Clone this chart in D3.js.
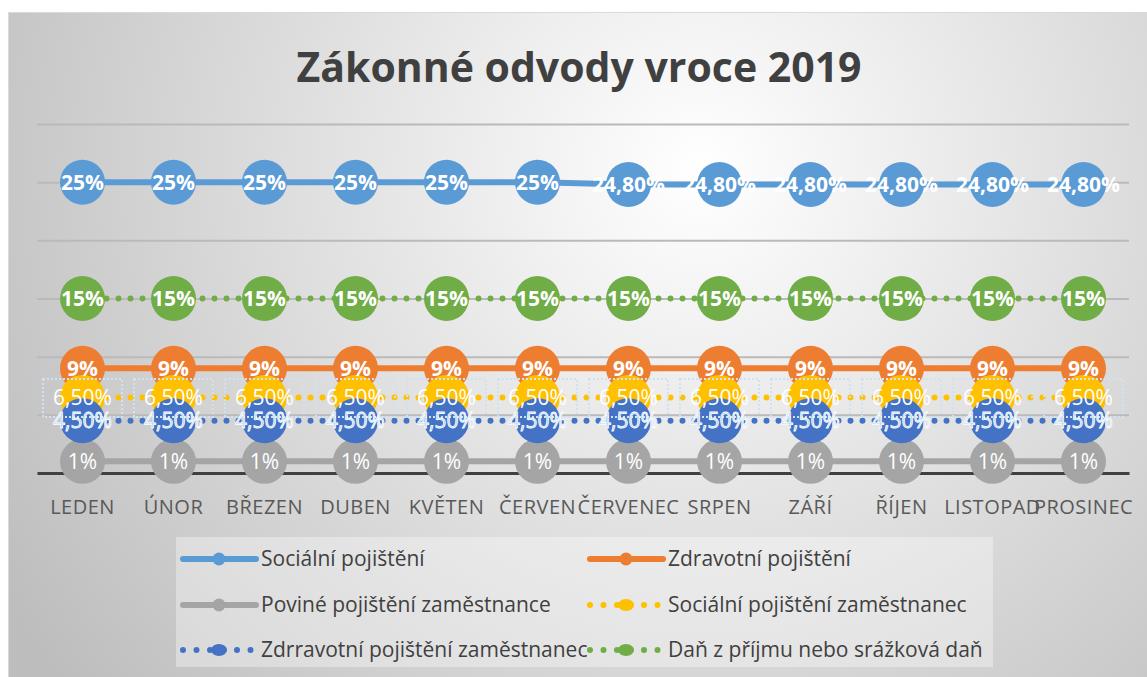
<!DOCTYPE html>
<html>
<head>
<meta charset="utf-8">
<script src="https://cdn.jsdelivr.net/npm/d3@7"></script>
<style>
  body { margin: 0; background: #fff; }
  svg { display: block; font-family: "Open Sans", "Noto Sans", sans-serif; }
</style>
</head>
<body>
<div id="chart"></div>
<script>
// categories
const months = ["LEDEN", "ÚNOR", "BŘEZEN", "DUBEN", "KVĚTEN", "ČERVEN",
  "ČERVENEC", "SRPEN", "ZÁŘÍ", "ŘÍJEN", "LISTOPAD", "PROSINEC"];

// values in %
const socialni = [25, 25, 25, 25, 25, 25, 24.8, 24.8, 24.8, 24.8, 24.8, 24.8];
const zdravotni = [9, 9, 9, 9, 9, 9, 9, 9, 9, 9, 9, 9];
const povinne = [1, 1, 1, 1, 1, 1, 1, 1, 1, 1, 1, 1];
const socialniZam = [6.5, 6.5, 6.5, 6.5, 6.5, 6.5, 6.5, 6.5, 6.5, 6.5, 6.5, 6.5];
const zdravotniZam = [4.5, 4.5, 4.5, 4.5, 4.5, 4.5, 4.5, 4.5, 4.5, 4.5, 4.5, 4.5];
const dan = [15, 15, 15, 15, 15, 15, 15, 15, 15, 15, 15, 15];

const gridTicks = [0, 5, 10, 15, 20, 25, 30];

const series = [
  { name: "Sociální pojištění", values: socialni, color: "#5B9BD5", dotted: false, bold: true },
  { name: "Zdravotní pojištění", values: zdravotni, color: "#ED7D31", dotted: false, bold: true },
  { name: "Poviné pojištění zaměstnance", values: povinne, color: "#A5A5A5", dotted: false, bold: false },
  { name: "Sociální pojištění zaměstnanec", values: socialniZam, color: "#FFC000", dotted: true, bold: false, box: true },
  { name: "Zdrravotní pojištění zaměstnanec", values: zdravotniZam, color: "#4472C4", dotted: true, bold: false, ghost: true },
  { name: "Daň z příjmu nebo srážková daň", values: dan, color: "#70AD47", dotted: true, bold: true }
];

const W = 1147, H = 677;
const fmt = v => Number.isInteger(v) ? v + "%" : v.toFixed(2).replace(".", ",") + "%";

const svg = d3.select("#chart").append("svg")
  .attr("width", W).attr("height", H);

// background
const defs = svg.append("defs");
const grad = defs.append("radialGradient")
  .attr("id", "bg").attr("gradientUnits", "userSpaceOnUse")
  .attr("cx", 700).attr("cy", 170).attr("r", 820);
grad.append("stop").attr("offset", "0%").attr("stop-color", "#ffffff");
grad.append("stop").attr("offset", "100%").attr("stop-color", "#bdbdbd");

svg.append("rect")
  .attr("x", 8.5).attr("y", 12.5).attr("width", W + 20).attr("height", H + 20)
  .attr("fill", "url(#bg)").attr("stroke", "#d9d9d9");

// title
svg.append("text")
  .attr("x", 579).attr("y", 82)
  .attr("text-anchor", "middle")
  .attr("font-size", 41).attr("font-weight", 700)
  .attr("fill", "#404040")
  .text("Zákonné odvody vroce 2019");

const x = d3.scaleBand().domain(months).range([37, 1129]);
const cx = m => x(m) + x.bandwidth() / 2;
const y = d3.scaleLinear().domain([0, 30]).range([473, 124]);

// gridlines
const grid = svg.append("g")
  .attr("transform", "translate(37,0)")
  .call(d3.axisLeft(y).tickValues(gridTicks).tickSize(-(1129 - 37)).tickFormat(""));
grid.select(".domain").remove();
grid.selectAll(".tick line").attr("stroke", "#bababa").attr("stroke-width", 2);

// x axis
const xAxis = svg.append("g")
  .attr("transform", `translate(0,${y(0)})`)
  .call(d3.axisBottom(x).tickSize(0).tickPadding(27));
xAxis.select(".domain").attr("stroke", "#404040").attr("stroke-width", 3);
xAxis.selectAll("text")
  .attr("font-size", 20).attr("fill", "#595959")
  .attr("letter-spacing", 0.5)
  .attr("font-family", "'Open Sans', sans-serif");

// lines
const line = d3.line().x((d, i) => cx(months[i])).y(d => y(d));
svg.append("g").selectAll("path")
  .data(series)
  .join("path")
  .attr("d", s => line(s.values))
  .attr("fill", "none")
  .attr("stroke", s => s.color)
  .attr("stroke-width", 6)
  .attr("stroke-linecap", s => s.dotted ? "round" : "butt")
  .attr("stroke-dasharray", s => s.dotted ? "0 12" : null);

// markers
const markers = svg.append("g");
series.forEach(s => {
  markers.append("g").selectAll("circle")
    .data(s.values)
    .join("circle")
    .attr("cx", (d, i) => cx(months[i]))
    .attr("cy", d => y(d))
    .attr("r", 22.5)
    .attr("fill", s.color);
});

// data labels
const labels = svg.append("g").attr("text-anchor", "middle");
series.forEach(s => {
  const g = labels.append("g");
  if (s.box) {
    g.selectAll("rect")
      .data(s.values)
      .join("rect")
      .attr("x", (d, i) => cx(months[i]) - 39.5)
      .attr("y", d => y(d) - 18.5)
      .attr("width", 79).attr("height", 38)
      .attr("fill", "none")
      .attr("stroke", "#cfe2f3")
      .attr("stroke-width", 2)
      .attr("stroke-dasharray", "2 2");
  }
  g.selectAll("text")
    .data(s.values)
    .join("text")
    .attr("x", (d, i) => cx(months[i]))
    .attr("y", d => y(d))
    .attr("dy", "0.36em")
    .attr("font-size", 21)
    .attr("font-weight", s.bold ? 700 : 400)
    .attr("fill", s.ghost ? "#a9cbe9" : "#ffffff")
    .attr("stroke", s.ghost ? "#ffffff" : null)
    .attr("stroke-width", s.ghost ? 0.8 : null)
    .text(d => fmt(d));
});

// legend
const legend = svg.append("g");
legend.append("rect")
  .attr("x", 176).attr("y", 537).attr("width", 817).attr("height", 130)
  .attr("fill", "#ffffff").attr("fill-opacity", 0.35);

const colX = [183, 590];
const rowY = [559, 605, 650];
series.forEach((s, i) => {
  const gx = colX[i % 2], gy = rowY[Math.floor(i / 2)];
  const g = legend.append("g").attr("transform", `translate(${gx},${gy})`);
  g.append("line")
    .attr("x1", 0).attr("x2", 73)
    .attr("stroke", s.color).attr("stroke-width", 6)
    .attr("stroke-linecap", "round")
    .attr("stroke-dasharray", s.dotted ? "0 13.5" : null);
  if (s.dotted) {
    g.append("ellipse").attr("cx", 36).attr("rx", 8).attr("ry", 6).attr("fill", s.color);
  } else {
    g.append("circle").attr("cx", 36).attr("r", 6.5).attr("fill", s.color);
  }
  g.append("text")
    .attr("x", 78).attr("dy", "0.35em")
    .attr("font-size", 21).attr("fill", "#404040")
    .text(s.name);
});
</script>
</body>
</html>
